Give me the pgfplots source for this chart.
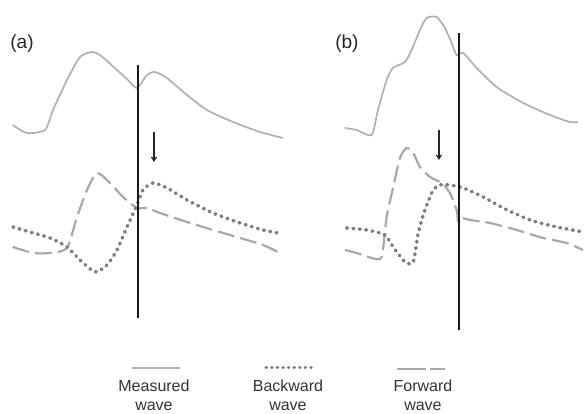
\documentclass[border=0pt]{standalone}
\usepackage{pgfplots}
\pgfplotsset{compat=1.18}
\usepackage{fontspec}
\setmainfont{Liberation Sans}
\usetikzlibrary{arrows.meta}

\definecolor{cmeas}{HTML}{B0B0B0}
\definecolor{cfwd}{HTML}{A8A8A8}
\definecolor{cbwd}{HTML}{7C7C7C}

\begin{document}
\begin{tikzpicture}
\begin{axis}[
    width=585pt, height=412pt, scale only axis,
    xmin=0, xmax=585, ymin=0, ymax=412,
    y dir=reverse,
    hide axis, clip=false,
    measw/.style={cmeas, line width=1.7pt, smooth, tension=0.4},
    fwdw/.style={cfwd, line width=2.2pt, dash pattern=on 17pt off 6pt, smooth, tension=0.4},
    bwdw/.style={cbwd, line width=3.6pt, line cap=round, dash pattern=on 0.8pt off 5.6pt, smooth, tension=0.4},
    vline/.style={black!90, line width=2pt},
    arr/.style={black!85, line width=1.2pt, -{Straight Barb[length=4pt,width=5pt]}},
]
\path (axis cs:0,0) rectangle (axis cs:585,412);

% ---- panel (a) ----
\addplot[measw] coordinates {
 (12.7,125) (26.7,133) (45,130) (53,110) (67,80) (80,57) (92,52) (100,55)
 (117,70) (128,80) (137,88) (147,75) (155,72) (167,78) (187,95) (207,110)
 (233,122) (260,132) (283,138)};
\addplot[fwdw] coordinates {
 (12.7,247) (33,253) (50,253) (67,248) (77,217) (87,190) (97,173) (110,183)
 (123,197) (137,208) (147,208) (160,213) (187,222) (213,230) (240,238)
 (263,245) (280,253)};
\addplot[bwdw] coordinates {
 (13,227) (33,233) (50,238) (67,247) (80,260) (95,272) (107,265) (117,250)
 (127,227) (137,205) (143,190) (153,183) (167,188) (187,200) (213,213)
 (240,223) (263,230) (278,233)};
\addplot[vline] coordinates {(138,65) (138,318)};
\addplot[arr] coordinates {(154,132) (154,162)};

% ---- panel (b) ----
\addplot[measw] coordinates {
 (345,128) (356.7,130) (371.7,135) (378,110) (386.7,80) (393,68) (405,62)
 (411.7,50) (420,30) (426.7,18) (436.7,17) (445,28) (451.7,43) (456.7,55)
 (463.3,53) (476.7,68) (496.7,87) (523.3,103) (550,115) (570,122) (578,122)};
\addplot[fwdw] coordinates {
 (345,250) (356.7,253) (371.7,258) (381.7,257) (386.7,217) (393.3,187)
 (400,158) (406.7,148) (413.3,153) (420,167) (430,177) (441.7,183)
 (450,193) (456.7,210) (458,222)};
\addplot[fwdw] coordinates {
 (463,218) (470,220) (490,223) (516.7,230) (543,238) (566.7,243) (583,250)};
\addplot[bwdw] coordinates {
 (346.7,228) (366.7,230) (385,235) (393.3,247) (405,262) (413.3,262)
 (418.3,233) (425,210) (433.3,190) (440,185) (450,185) (463.3,188)
 (483.3,197) (503.3,208) (530,220) (556.7,227) (583.3,232)};
\addplot[vline] coordinates {(459,33) (459,330)};
\addplot[arr] coordinates {(439,130) (439,160)};

% ---- legend ----
\addplot[measw] coordinates {(132,368) (180,368)};
\addplot[bwdw, line width=3pt, dash pattern=on 0.6pt off 5pt] coordinates {(266,368) (312,368)};
\addplot[cfwd, line width=2.2pt, dash pattern=on 29pt off 4pt] coordinates {(397,369) (445,369)};

\node[font=\fontsize{16}{19}\selectfont, text=black!80, align=center] at (axis cs:154,395) {Measured\\wave};
\node[font=\fontsize{16}{19}\selectfont, text=black!80, align=center] at (axis cs:288,395) {Backward\\wave};
\node[font=\fontsize{16}{19}\selectfont, text=black!80, align=center] at (axis cs:423,395) {Forward\\wave};

\node[font=\fontsize{19}{22}\selectfont, text=black!85] at (axis cs:22,44) {(a)};
\node[font=\fontsize{19}{22}\selectfont, text=black!85] at (axis cs:347,44) {(b)};
\end{axis}
\end{tikzpicture}
\end{document}
